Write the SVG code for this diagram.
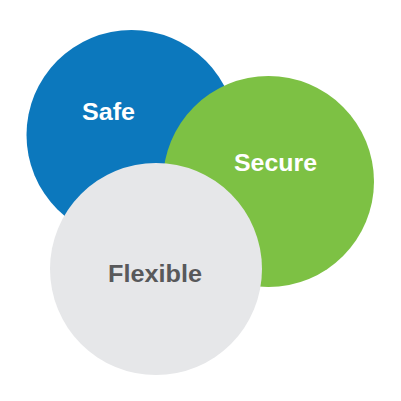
<svg xmlns="http://www.w3.org/2000/svg" width="401" height="401" viewBox="0 0 401 401">
<style>
.lbl{font-family:"Liberation Sans",Arial,sans-serif;font-weight:bold;font-size:24px;text-anchor:middle}
.w{fill:#ffffff}
.d{fill:#58595b}
</style>
<rect width="401" height="401" fill="#ffffff"/>
<g id="safe">
<circle cx="131.5" cy="135" r="105" fill="#0c78bd"/>
<text class="lbl w" x="108.5" y="120" textLength="53" lengthAdjust="spacingAndGlyphs">Safe</text>
</g>
<g id="secure">
<circle cx="268.5" cy="181.5" r="105.5" fill="#7dc144"/>
<text class="lbl w" x="275.5" y="171" textLength="83" lengthAdjust="spacingAndGlyphs">Secure</text>
</g>
<g id="flexible">
<circle cx="156" cy="269" r="106" fill="#e6e7e9"/>
<text class="lbl d" x="155" y="282" textLength="94" lengthAdjust="spacingAndGlyphs">Flexible</text>
</g>
<g id="connectors"/>
</svg>
